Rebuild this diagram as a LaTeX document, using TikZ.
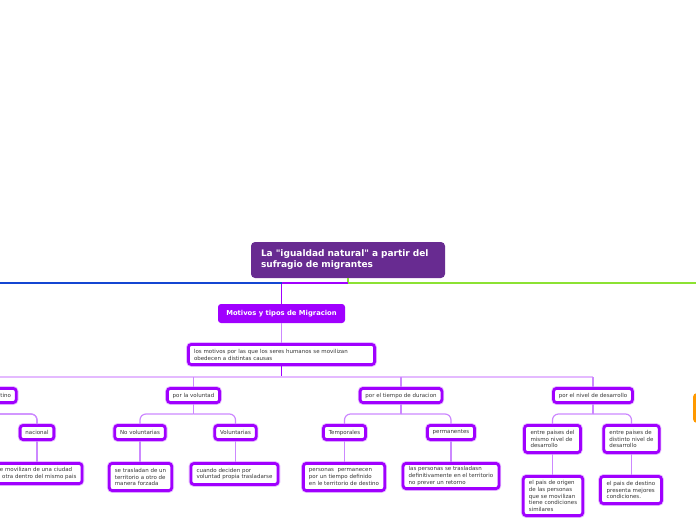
\documentclass[tikz,border=0pt]{standalone}
\usepackage{fontspec}
\setmainfont{DejaVu Sans}[Ligatures=TeXOff]
\definecolor{rootc}{RGB}{104,43,145}
\definecolor{vio}{RGB}{160,0,255}
\definecolor{ltv}{RGB}{204,136,255}
\definecolor{hlv}{RGB}{228,186,255}
\definecolor{txt}{RGB}{55,55,55}
\definecolor{bl}{RGB}{20,70,210}
\definecolor{gr}{RGB}{140,226,50}
\definecolor{orc}{RGB}{255,153,0}
\tikzset{
  sm/.style={font=\fontsize{5.5}{6.9}\selectfont, text=txt},
  box/.style={sm, draw=vio, line width=2.8pt, rounded corners=3pt, fill=white,
    preaction={draw=vio!25, line width=4.6pt}},
  lab/.style={box, inner xsep=5.3pt, inner ysep=0pt, minimum height=14.2pt},
  leaf/.style={box, inner xsep=5.6pt, inner ysep=0pt, align=left},
  rootbox/.style={fill=rootc, rounded corners=4pt, text=white, align=left,
    font=\fontsize{9}{11}\selectfont\bfseries, inner xsep=10pt, inner ysep=0pt},
  mainbox/.style={fill=vio, rounded corners=3pt, text=white, inner sep=0pt,
    font=\fontsize{6.8}{8}\selectfont\bfseries},
  orbox/.style={fill=orc, rounded corners=4pt},
  c1/.style={line width=1.3pt},
  clt/.style={ltv, line width=1.2pt},
  chl/.style={hlv, line width=2pt},
}
\begin{document}
\begin{tikzpicture}[x=1pt,y=-1pt]
\useasboundingbox (0,0) rectangle (696,520);
\clip (0,0) rectangle (696,520);

% nodes
\node[rootbox, minimum width=194pt, minimum height=36pt, text width=174pt] (root) at (348,260)
  {La "igualdad natural" a partir del\\sufragio de migrantes};
\node[mainbox, minimum width=127pt, minimum height=19pt] (motivos) at (281.5,313.5)
  {Motivos y tipos de Migracion};
\node[leaf, text width=175pt, minimum height=20.2pt] (desc) at (281.5,354.5)
  {los motivos por las que los seres humanos se movilizan\\obedecen a distintas causas};

\node[lab] (destino) at (-8,395.5) {por el destino};
\node[lab] (voluntad) at (193.5,395.5) {por la voluntad};
\node[lab] (tiempo) at (401,395.5) {por el tiempo de duracion};
\node[lab] (nivel) at (593,395.5) {por el nivel de desarrollo};

\node[lab] (nacional) at (37,432.5) {nacional};
\node[lab] (novol) at (140,432.5) {No voluntarias};
\node[lab] (vol) at (235.5,432.5) {Voluntarias};
\node[lab] (temp) at (344.5,432.5) {Temporales};
\node[lab] (perm) at (451,432.5) {permanentes};
\node[leaf, minimum width=56pt, minimum height=27.2pt] (mismo) at (552.5,439)
  {entre paises del\\mismo nivel de\\desarrollo};
\node[leaf, minimum width=54pt, minimum height=27.2pt] (distinto) at (631.5,439)
  {entre paises de\\distinto nivel de\\desarrollo};

\node[leaf, minimum width=89.7pt, minimum height=20.2pt] (nac4) at (36.75,473.5)
  {se movilizan de una ciudad\\a otra dentro del mismo pais};
\node[leaf, minimum width=62.2pt, minimum height=27.2pt] (novol4) at (140.5,477)
  {se trasladan de un\\territorio a otro de\\manera forzada};
\node[leaf, minimum width=86pt, minimum height=21pt] (vol4) at (234.5,474)
  {cuando deciden por\\voluntad propia trasladarse};
\node[leaf, minimum width=79.2pt, minimum height=27.2pt] (temp4) at (344,477)
  {personas~ permanecen\\por un tiempo definido\\en le territorio de destino};
\node[leaf, minimum width=95.2pt, minimum height=25.2pt] (perm4) at (451,476)
  {las personas se trasladasn\\definitivamente en el territorio\\no prever un retorno};
\node[leaf, minimum width=57pt, minimum height=39.2pt] (mismo4) at (553,496)
  {el pais de origen\\de las personas\\que se movilizan\\tiene condiciones\\similares};
\node[leaf, minimum width=61pt, minimum height=27.2pt] (dist4) at (631,490)
  {el pais de destino\\presenta mejores\\condiciones.};

\node[orbox, minimum width=54pt, minimum height=30pt] (orange) at (720,408) {};

\coordinate (leftend) at (0,283);
\coordinate (rightend) at (696,283);

% connectors from root
\draw[c1, gr] (root.south) -- (root.south |- 0,283) -- (rightend);
\draw[c1, vio] (root.south |- 0,283) -| (motivos.north);
\draw[c1, bl] (motivos.north |- 0,283) -- (leftend);

\draw[clt] (motivos.south) -- (desc.north);
\draw[c1, vio] (desc.south) -- (desc.south |- 0,377);
\draw[chl] (destino.north |- 0,377) -- (nivel.north |- 0,377);
\foreach \n in {destino,voluntad,tiempo,nivel}
  \draw[clt] (\n.north |- 0,377) -- (\n.north);

% level 2 -> level 3
\foreach \p/\a/\b in {destino/nacional/nacional, voluntad/novol/vol, tiempo/temp/perm, nivel/mismo/distinto}{
  \draw[clt] (\p.south) -- (\p.south |- 0,414);
  \draw[clt, rounded corners=6pt] (\p.south |- 0,414) -| (\a.north);
  \draw[clt, rounded corners=6pt] (\p.south |- 0,414) -| (\b.north);
}

% level 3 -> level 4
\foreach \c/\g in {nacional/nac4, novol/novol4, vol/vol4, temp/temp4, perm/perm4, mismo/mismo4, distinto/dist4}
  \draw[clt] (\c.south) -- (\c.south |- \g.north);
\end{tikzpicture}
\end{document}
